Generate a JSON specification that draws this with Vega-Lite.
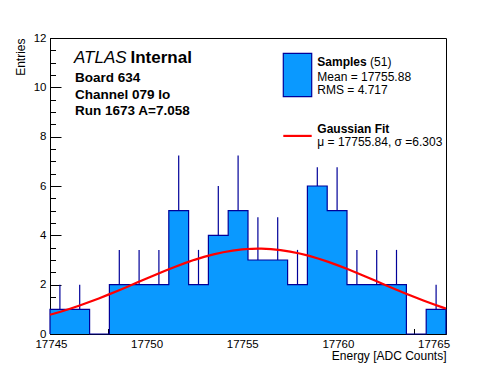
{
  "$schema": "https://vega.github.io/schema/vega-lite/v6.json",
  "width": 396,
  "height": 296,
  "autosize": {"type": "none"},
  "padding": {"left": 50, "top": 38, "right": 50, "bottom": 38},
  "background": "white",
  "config": {
    "font": "Liberation Sans",
    "view": {"stroke": "black", "strokeWidth": 1},
    "axis": {
      "grid": false,
      "domainColor": "black",
      "tickColor": "black",
      "labelColor": "black",
      "titleColor": "black",
      "labelFont": "Liberation Sans",
      "titleFont": "Liberation Sans",
      "labelFontSize": 11.5,
      "titleFontSize": 12,
      "titleFontWeight": "normal",
      "labelFlush": false,
      "labelOverlap": false
    }
  },
  "resolve": {"axis": {"x": "independent", "y": "independent"}},
  "datasets": {
    "bins": [
      {"x0": 17744.95, "x1": 17745.985, "xc": 17745.4675, "n": 1, "top": 2},
      {"x0": 17745.985, "x1": 17747.02, "xc": 17746.5025, "n": 1, "top": 2},
      {"x0": 17747.02, "x1": 17748.055, "xc": 17747.5375, "n": 0, "top": 0},
      {"x0": 17748.055, "x1": 17749.09, "xc": 17748.5725, "n": 2, "top": 3.41},
      {"x0": 17749.09, "x1": 17750.125, "xc": 17749.6075, "n": 2, "top": 3.41},
      {"x0": 17750.125, "x1": 17751.16, "xc": 17750.6425, "n": 2, "top": 3.41},
      {"x0": 17751.16, "x1": 17752.195, "xc": 17751.6775, "n": 5, "top": 7.24},
      {"x0": 17752.195, "x1": 17753.23, "xc": 17752.7125, "n": 2, "top": 3.41},
      {"x0": 17753.23, "x1": 17754.265, "xc": 17753.7475, "n": 4, "top": 6},
      {"x0": 17754.265, "x1": 17755.3, "xc": 17754.7825, "n": 5, "top": 7.24},
      {"x0": 17755.3, "x1": 17756.335, "xc": 17755.8175, "n": 3, "top": 4.73},
      {"x0": 17756.335, "x1": 17757.37, "xc": 17756.8525, "n": 3, "top": 4.73},
      {"x0": 17757.37, "x1": 17758.405, "xc": 17757.8875, "n": 2, "top": 3.41},
      {"x0": 17758.405, "x1": 17759.44, "xc": 17758.9225, "n": 6, "top": 6.76},
      {"x0": 17759.44, "x1": 17760.475, "xc": 17759.9575, "n": 5, "top": 6.76},
      {"x0": 17760.475, "x1": 17761.51, "xc": 17760.9925, "n": 2, "top": 3.41},
      {"x0": 17761.51, "x1": 17762.545, "xc": 17762.0275, "n": 2, "top": 3.41},
      {"x0": 17762.545, "x1": 17763.58, "xc": 17763.0625, "n": 2, "top": 3.41},
      {"x0": 17763.58, "x1": 17764.615, "xc": 17764.0975, "n": 0, "top": 0},
      {"x0": 17764.615, "x1": 17765.65, "xc": 17765.1325, "n": 1, "top": 2}
    ],
    "outline": [
      {"k": 0, "x": 17744.95, "n": 0},
      {"k": 1, "x": 17744.95, "n": 1},
      {"k": 2, "x": 17745.985, "n": 1},
      {"k": 3, "x": 17747.02, "n": 0},
      {"k": 4, "x": 17748.055, "n": 2},
      {"k": 5, "x": 17749.09, "n": 2},
      {"k": 6, "x": 17750.125, "n": 2},
      {"k": 7, "x": 17751.16, "n": 5},
      {"k": 8, "x": 17752.195, "n": 2},
      {"k": 9, "x": 17753.23, "n": 4},
      {"k": 10, "x": 17754.265, "n": 5},
      {"k": 11, "x": 17755.3, "n": 3},
      {"k": 12, "x": 17756.335, "n": 3},
      {"k": 13, "x": 17757.37, "n": 2},
      {"k": 14, "x": 17758.405, "n": 6},
      {"k": 15, "x": 17759.44, "n": 5},
      {"k": 16, "x": 17760.475, "n": 2},
      {"k": 17, "x": 17761.51, "n": 2},
      {"k": 18, "x": 17762.545, "n": 2},
      {"k": 19, "x": 17763.58, "n": 0},
      {"k": 20, "x": 17764.615, "n": 1},
      {"k": 21, "x": 17765.65, "n": 1},
      {"k": 22, "x": 17765.65, "n": 0}
    ],
    "fit": [
      {"x": 17744.95, "y": 0.778},
      {"x": 17745.5, "y": 0.901},
      {"x": 17746, "y": 1.023},
      {"x": 17746.5, "y": 1.154},
      {"x": 17747, "y": 1.294},
      {"x": 17747.5, "y": 1.442},
      {"x": 17748, "y": 1.596},
      {"x": 17748.5, "y": 1.756},
      {"x": 17749, "y": 1.92},
      {"x": 17749.5, "y": 2.086},
      {"x": 17750, "y": 2.252},
      {"x": 17750.5, "y": 2.416},
      {"x": 17751, "y": 2.577},
      {"x": 17751.5, "y": 2.73},
      {"x": 17752, "y": 2.874},
      {"x": 17752.5, "y": 3.007},
      {"x": 17753, "y": 3.126},
      {"x": 17753.5, "y": 3.23},
      {"x": 17754, "y": 3.316},
      {"x": 17754.5, "y": 3.383},
      {"x": 17755, "y": 3.43},
      {"x": 17755.5, "y": 3.455},
      {"x": 17755.84, "y": 3.46},
      {"x": 17756, "y": 3.459},
      {"x": 17756.5, "y": 3.441},
      {"x": 17757, "y": 3.402},
      {"x": 17757.5, "y": 3.342},
      {"x": 17758, "y": 3.263},
      {"x": 17758.5, "y": 3.165},
      {"x": 17759, "y": 3.051},
      {"x": 17759.5, "y": 2.923},
      {"x": 17760, "y": 2.783},
      {"x": 17760.5, "y": 2.633},
      {"x": 17761, "y": 2.475},
      {"x": 17761.5, "y": 2.312},
      {"x": 17762, "y": 2.146},
      {"x": 17762.5, "y": 1.98},
      {"x": 17763, "y": 1.815},
      {"x": 17763.5, "y": 1.653},
      {"x": 17764, "y": 1.497},
      {"x": 17764.5, "y": 1.346},
      {"x": 17765, "y": 1.204},
      {"x": 17765.5, "y": 1.069},
      {"x": 17765.65, "y": 1.031}
    ],
    "legendbox": [
      {"x": 17757.145, "x2": 17758.63, "y": 11.38, "y2": 9.62}
    ],
    "legendline": [
      {"x": 17757.145, "x2": 17758.63, "y": 8.03}
    ],
    "labels": [
      {"x": 17746.205, "y": 11.2, "text": "ATLAS", "grp": "italic"},
      {"x": 17749.158, "y": 11.2, "text": "Internal", "grp": "big"},
      {"x": 17746.257, "y": 10.37, "text": "Board 634", "grp": "info"},
      {"x": 17746.257, "y": 9.7, "text": "Channel 079 Io", "grp": "info"},
      {"x": 17746.257, "y": 9.05, "text": "Run 1673 A=7.058", "grp": "info"},
      {"x": 17758.923, "y": 11.04, "text": "Samples", "grp": "legbold"},
      {"x": 17761.68, "y": 11.04, "text": "(51)", "grp": "leg"},
      {"x": 17758.923, "y": 10.43, "text": "Mean = 17755.88", "grp": "leg"},
      {"x": 17758.923, "y": 9.89, "text": "RMS = 4.717", "grp": "leg"},
      {"x": 17758.923, "y": 8.3, "text": "Gaussian Fit", "grp": "legbold"},
      {"x": 17758.923, "y": 7.8, "text": "μ = 17755.84, σ =6.303", "grp": "leg"}
    ]
  },
  "layer": [
    {
      "data": {"name": "outline"},
      "transform": [{"filter": "datum.k >= 1 && datum.k <= 21"}],
      "mark": {"type": "area", "interpolate": "step-after", "fill": "#0a99ff", "opacity": 1},
      "encoding": {
        "x": {
          "field": "x", "type": "quantitative",
          "scale": {"domain": [17744.95, 17765.65], "nice": false, "zero": false},
          "axis": {
            "orient": "bottom",
            "title": "Energy [ADC Counts]",
            "values": [17745, 17750, 17755, 17760, 17765],
            "format": "d",
            "tickSize": -11,
            "labelPadding": 15,
            "titleX": 396,
            "titleY": 21,
            "titleAlign": "right",
            "titleBaseline": "middle",
            "titleAnchor": null
          }
        },
        "y": {
          "field": "n", "type": "quantitative",
          "scale": {"domain": [0, 12], "nice": false},
          "axis": {
            "orient": "left",
            "title": "Entries",
            "values": [0, 2, 4, 6, 8, 10, 12],
            "format": "d",
            "tickSize": -11,
            "labelPadding": 15,
            "titleX": -30,
            "titleY": 0,
            "titleAngle": -90,
            "titleAlign": "right",
            "titleBaseline": "middle",
            "titleAnchor": null
          }
        },
        "y2": {"datum": 0}
      }
    },
    {
      "data": {"name": "outline"},
      "mark": {"type": "line", "interpolate": "step-after", "stroke": "#000099", "strokeWidth": 1.2},
      "encoding": {
        "x": {
          "field": "x", "type": "quantitative",
          "axis": {
            "orient": "bottom",
            "title": null,
            "values": [17745, 17746, 17747, 17748, 17749, 17750, 17751, 17752, 17753, 17754, 17755, 17756, 17757, 17758, 17759, 17760, 17761, 17762, 17763, 17764, 17765],
            "labels": false,
            "domain": false,
            "tickSize": -5.5
          }
        },
        "y": {
          "field": "n", "type": "quantitative",
          "axis": {
            "orient": "left",
            "title": null,
            "values": [0, 0.5, 1, 1.5, 2, 2.5, 3, 3.5, 4, 4.5, 5, 5.5, 6, 6.5, 7, 7.5, 8, 8.5, 9, 9.5, 10, 10.5, 11, 11.5, 12],
            "labels": false,
            "domain": false,
            "tickSize": -5.5
          }
        },
        "order": {"field": "k"}
      }
    },
    {
      "data": {"name": "bins"},
      "transform": [{"filter": "datum.n > 0"}],
      "mark": {"type": "rule", "stroke": "#000099", "strokeWidth": 1.2},
      "encoding": {
        "x": {"field": "xc", "type": "quantitative", "axis": null},
        "y": {"field": "n", "type": "quantitative", "axis": null},
        "y2": {"field": "top"}
      }
    },
    {
      "data": {"name": "fit"},
      "mark": {"type": "line", "stroke": "#ff0000", "strokeWidth": 2.2},
      "encoding": {
        "x": {"field": "x", "type": "quantitative", "axis": null},
        "y": {"field": "y", "type": "quantitative", "axis": null}
      }
    },
    {
      "data": {"name": "legendbox"},
      "mark": {"type": "rect", "fill": "#0a99ff", "stroke": "#000099", "strokeWidth": 1.2},
      "encoding": {
        "x": {"field": "x", "type": "quantitative", "axis": null},
        "x2": {"field": "x2"},
        "y": {"field": "y", "type": "quantitative", "axis": null},
        "y2": {"field": "y2"}
      }
    },
    {
      "data": {"name": "legendline"},
      "mark": {"type": "rule", "stroke": "#ff0000", "strokeWidth": 2.2},
      "encoding": {
        "x": {"field": "x", "type": "quantitative", "axis": null},
        "x2": {"field": "x2"},
        "y": {"field": "y", "type": "quantitative", "axis": null}
      }
    },
    {
      "data": {"name": "labels"},
      "transform": [{"filter": "datum.grp === 'italic'"}],
      "mark": {"type": "text", "align": "left", "baseline": "middle", "fontSize": 17, "fontStyle": "italic", "color": "black"},
      "encoding": {
        "x": {"field": "x", "type": "quantitative", "axis": null},
        "y": {"field": "y", "type": "quantitative", "axis": null},
        "text": {"field": "text"}
      }
    },
    {
      "data": {"name": "labels"},
      "transform": [{"filter": "datum.grp === 'big'"}],
      "mark": {"type": "text", "align": "left", "baseline": "middle", "fontSize": 17, "fontWeight": "bold", "color": "black"},
      "encoding": {
        "x": {"field": "x", "type": "quantitative", "axis": null},
        "y": {"field": "y", "type": "quantitative", "axis": null},
        "text": {"field": "text"}
      }
    },
    {
      "data": {"name": "labels"},
      "transform": [{"filter": "datum.grp === 'info'"}],
      "mark": {"type": "text", "align": "left", "baseline": "middle", "fontSize": 13.5, "fontWeight": "bold", "color": "black"},
      "encoding": {
        "x": {"field": "x", "type": "quantitative", "axis": null},
        "y": {"field": "y", "type": "quantitative", "axis": null},
        "text": {"field": "text"}
      }
    },
    {
      "data": {"name": "labels"},
      "transform": [{"filter": "datum.grp === 'legbold'"}],
      "mark": {"type": "text", "align": "left", "baseline": "middle", "fontSize": 12, "fontWeight": "bold", "color": "black"},
      "encoding": {
        "x": {"field": "x", "type": "quantitative", "axis": null},
        "y": {"field": "y", "type": "quantitative", "axis": null},
        "text": {"field": "text"}
      }
    },
    {
      "data": {"name": "labels"},
      "transform": [{"filter": "datum.grp === 'leg'"}],
      "mark": {"type": "text", "align": "left", "baseline": "middle", "fontSize": 12, "color": "black"},
      "encoding": {
        "x": {"field": "x", "type": "quantitative", "axis": null},
        "y": {"field": "y", "type": "quantitative", "axis": null},
        "text": {"field": "text"}
      }
    }
  ]
}
